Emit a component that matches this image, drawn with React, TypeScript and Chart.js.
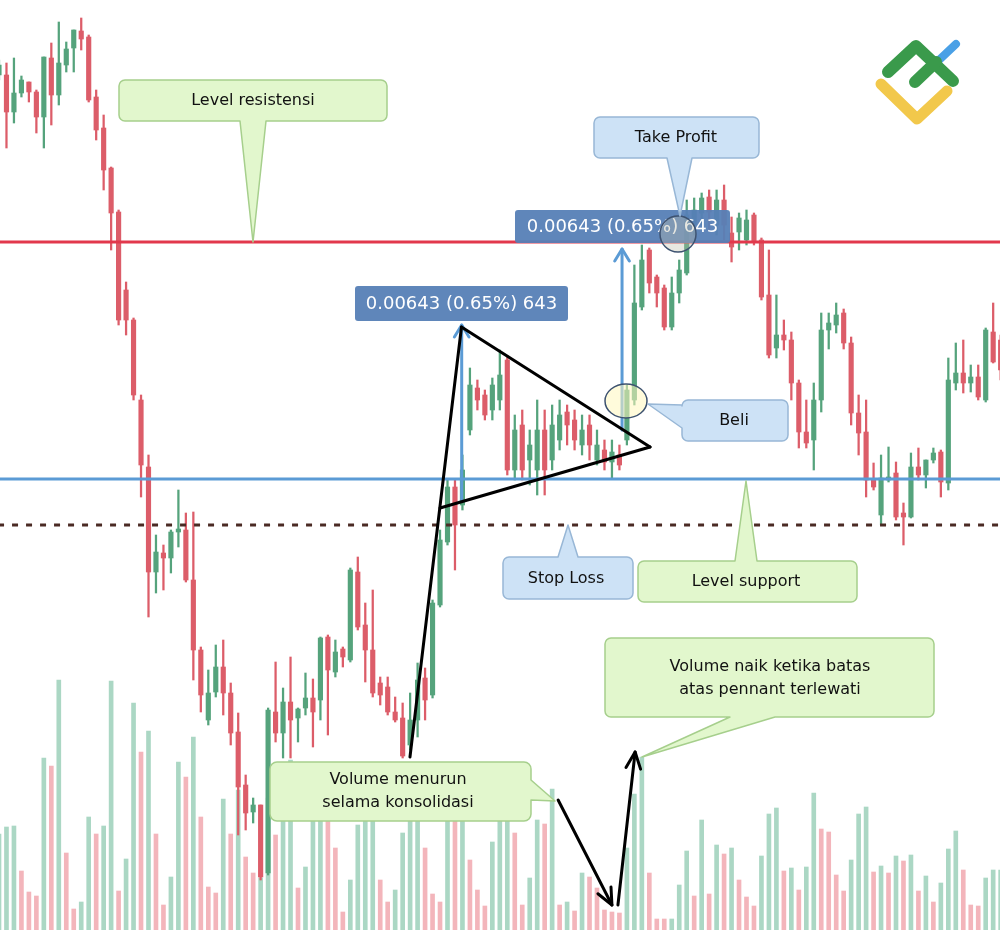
import React, { useEffect, useRef } from 'react';
import { Chart, registerables } from 'chart.js';
Chart.register(...registerables);

// ---- Data (price in points: 1 point = 0.00001) ----
const candleIndex = Array.from({ length: 135 }, (_, i) => i);

const openPts = [
  98925, 98925, 98888, 98907, 98918, 98908, 98883, 98942, 98905, 98935,
  98952, 98969, 98963, 98903, 98872, 98832, 98788, 98710, 98680, 98600,
  98533, 98428, 98447, 98442, 98468, 98470, 98420, 98350, 98280, 98308,
  98333, 98307, 98268, 98215, 98188, 98195, 98127, 98288, 98267, 98298,
  98282, 98292, 98302, 98300, 98363, 98328, 98351, 98340, 98428, 98375,
  98350, 98317, 98313, 98288, 98282, 98255, 98280, 98322, 98305, 98395,
  98458, 98513, 98495, 98570, 98612, 98605, 98590, 98600, 98640, 98530,
  98575, 98540, 98530, 98570, 98540, 98560, 98588, 98580, 98555, 98575,
  98540, 98550, 98538, 98545, 98560, 98600, 98693, 98750, 98723, 98712,
  98673, 98707, 98727, 98775, 98787, 98803, 98775, 98800, 98767, 98768,
  98760, 98785, 98760, 98705, 98652, 98665, 98660, 98617, 98568, 98560,
  98600, 98670, 98675, 98687, 98657, 98587, 98568, 98520, 98485, 98520,
  98527, 98487, 98483, 98533, 98525, 98540, 98548, 98517, 98617, 98627,
  98617, 98623, 98600, 98668, 98660,
];
const highPts = [
  98940, 98937, 98942, 98924, 98918, 98910, 98943, 98957, 98978, 98958,
  98970, 98982, 98965, 98910, 98885, 98833, 98790, 98718, 98682, 98605,
  98545, 98465, 98455, 98470, 98510, 98487, 98488, 98353, 98330, 98355,
  98360, 98317, 98287, 98225, 98202, 98195, 98292, 98338, 98312, 98343,
  98292, 98327, 98321, 98363, 98365, 98360, 98353, 98432, 98443, 98397,
  98410, 98323, 98323, 98303, 98297, 98307, 98337, 98332, 98400, 98470,
  98520, 98520, 98545, 98632, 98620, 98610, 98622, 98650, 98644, 98585,
  98590, 98570, 98600, 98590, 98595, 98600, 98595, 98590, 98585, 98585,
  98570, 98560, 98560, 98555, 98615, 98735, 98755, 98752, 98725, 98715,
  98723, 98740, 98800, 98802, 98807, 98810, 98810, 98815, 98783, 98787,
  98790, 98787, 98762, 98750, 98705, 98680, 98668, 98620, 98600, 98617,
  98687, 98687, 98697, 98691, 98663, 98605, 98600, 98537, 98545, 98553,
  98538, 98497, 98547, 98552, 98540, 98552, 98550, 98642, 98657, 98660,
  98635, 98635, 98672, 98697, 98665,
];
const lowPts = [
  98920, 98852, 98877, 98903, 98898, 98867, 98852, 98875, 98895, 98928,
  98928, 98950, 98898, 98860, 98810, 98750, 98675, 98665, 98600, 98503,
  98383, 98407, 98410, 98427, 98453, 98418, 98320, 98288, 98275, 98303,
  98285, 98255, 98165, 98170, 98177, 98120, 98125, 98258, 98242, 98242,
  98258, 98285, 98253, 98280, 98265, 98323, 98333, 98338, 98370, 98318,
  98303, 98295, 98285, 98278, 98242, 98250, 98263, 98280, 98302, 98393,
  98455, 98430, 98490, 98565, 98590, 98580, 98580, 98590, 98525, 98520,
  98520, 98515, 98505, 98505, 98530, 98550, 98555, 98550, 98545, 98540,
  98535, 98530, 98522, 98530, 98555, 98595, 98690, 98707, 98693, 98670,
  98670, 98697, 98725, 98765, 98775, 98770, 98765, 98760, 98738, 98750,
  98755, 98755, 98700, 98642, 98642, 98650, 98600, 98552, 98552, 98530,
  98588, 98651, 98667, 98651, 98575, 98545, 98503, 98510, 98475, 98518,
  98480, 98455, 98482, 98520, 98512, 98537, 98503, 98510, 98610, 98607,
  98608, 98600, 98598, 98637, 98620,
];
const closePts = [
  98935, 98888, 98907, 98920, 98908, 98883, 98943, 98905, 98937, 98951,
  98970, 98961, 98900, 98870, 98830, 98787, 98680, 98680, 98605, 98535,
  98428, 98448, 98442, 98468, 98471, 98420, 98350, 98305, 98307, 98333,
  98307, 98267, 98213, 98187, 98195, 98123, 98290, 98267, 98298, 98280,
  98291, 98302, 98288, 98362, 98330, 98348, 98343, 98430, 98373, 98350,
  98307, 98305, 98288, 98280, 98244, 98280, 98320, 98300, 98397, 98460,
  98513, 98475, 98530, 98615, 98600, 98585, 98615, 98625, 98530, 98570,
  98530, 98555, 98570, 98530, 98575, 98585, 98575, 98560, 98570, 98555,
  98555, 98538, 98548, 98535, 98610, 98697, 98740, 98717, 98707, 98673,
  98707, 98730, 98785, 98790, 98802, 98788, 98800, 98775, 98753, 98782,
  98780, 98758, 98703, 98645, 98665, 98660, 98617, 98568, 98557, 98600,
  98670, 98677, 98685, 98657, 98587, 98567, 98520, 98513, 98522, 98523,
  98483, 98483, 98533, 98525, 98540, 98547, 98518, 98620, 98627, 98617,
  98623, 98603, 98670, 98638, 98630,
];
const volume = [
  96, 103, 104, 59, 38, 34, 172, 164, 250, 77,
  21, 28, 113, 96, 104, 249, 39, 71, 227, 178,
  199, 96, 25, 53, 168, 153, 193, 113, 43, 37,
  131, 96, 140, 73, 57, 52, 132, 95, 140, 170,
  42, 63, 150, 140, 125, 82, 18, 50, 105, 140,
  120, 50, 28, 40, 97, 130, 130, 82, 36, 28,
  115, 115, 115, 70, 40, 24, 88, 130, 130, 97,
  25, 52, 110, 106, 141, 25, 28, 19, 57, 53,
  42, 20, 18, 17, 82, 136, 173, 57, 11, 11,
  11, 45, 79, 34, 110, 36, 85, 76, 82, 50,
  33, 24, 74, 116, 122, 59, 62, 40, 63, 137,
  101, 98, 55, 39, 70, 116, 123, 58, 64, 57,
  74, 69, 75, 39, 54, 28, 47, 81, 99, 60,
  25, 24, 52, 60, 60,
];
const volumeUp = [
  1, 1, 1, 0, 0, 0, 1, 0, 1, 0,
  0, 1, 1, 0, 1, 1, 0, 1, 1, 0,
  1, 0, 0, 1, 1, 0, 1, 0, 0, 0,
  1, 0, 1, 0, 0, 1, 1, 0, 1, 1,
  0, 1, 1, 1, 0, 0, 0, 1, 1, 1,
  1, 0, 0, 1, 1, 1, 1, 0, 0, 0,
  1, 0, 1, 0, 0, 0, 1, 1, 1, 0,
  0, 1, 1, 0, 1, 0, 1, 0, 1, 0,
  0, 0, 0, 0, 1, 1, 1, 0, 0, 0,
  1, 1, 1, 0, 1, 0, 1, 0, 1, 0,
  0, 0, 1, 1, 1, 0, 1, 0, 1, 1,
  0, 0, 0, 0, 1, 1, 1, 0, 1, 0,
  1, 0, 1, 0, 1, 0, 1, 1, 1, 0,
  0, 0, 1, 1, 1,
];

const resistanceLevel = 98758;
const supportLevel = 98521;
const stopLevel = 98475;

// pattern geometry in (candle index, price)
const pennantPole = [[54.98, 98243], [61.87, 98673]];
const pennantUpper = [[61.87, 98673], [87.1, 98553]];
const pennantLower = [[59.0, 98492], [87.1, 98553]];
const measureArrow1 = [[61.9, 98500], [61.9, 98675]];
const measureArrow2 = [[83.35, 98570], [83.35, 98751]];
// volume arrows in (candle index, volume)
const volArrowDown = [[74.8, 130], [82.0, 25]];
const volArrowUp = [[82.8, 25], [85.1, 178]];

const measureText = '0.00643 (0.65%) 643';

const C_UP = '#55a37c';
const C_DN = '#dc5d69';
const V_UP = '#abd7c4';
const V_DN = '#f3b5bb';

function callout(ctx: CanvasRenderingContext2D, b: any, fill: string, stroke: string) {
  const { x, y, w, h, r, side, a, c, tip } = b;
  ctx.beginPath();
  ctx.moveTo(x + r, y);
  if (side === 'top') { ctx.lineTo(a, y); ctx.lineTo(tip[0], tip[1]); ctx.lineTo(c, y); }
  ctx.lineTo(x + w - r, y);
  ctx.arcTo(x + w, y, x + w, y + r, r);
  if (side === 'right') { ctx.lineTo(x + w, a); ctx.lineTo(tip[0], tip[1]); ctx.lineTo(x + w, c); }
  ctx.lineTo(x + w, y + h - r);
  ctx.arcTo(x + w, y + h, x + w - r, y + h, r);
  if (side === 'bottom') { ctx.lineTo(c, y + h); ctx.lineTo(tip[0], tip[1]); ctx.lineTo(a, y + h); }
  ctx.lineTo(x + r, y + h);
  ctx.arcTo(x, y + h, x, y + h - r, r);
  if (side === 'left') { ctx.lineTo(x, c); ctx.lineTo(tip[0], tip[1]); ctx.lineTo(x, a); }
  ctx.lineTo(x, y + r);
  ctx.arcTo(x, y, x + r, y, r);
  ctx.closePath();
  ctx.fillStyle = fill;
  ctx.fill();
  ctx.lineWidth = 1.5;
  ctx.strokeStyle = stroke;
  ctx.stroke();
}

function roundRect(ctx: CanvasRenderingContext2D, x: number, y: number, w: number, h: number, r: number) {
  ctx.beginPath();
  ctx.moveTo(x + r, y);
  ctx.arcTo(x + w, y, x + w, y + h, r);
  ctx.arcTo(x + w, y + h, x, y + h, r);
  ctx.arcTo(x, y + h, x, y, r);
  ctx.arcTo(x, y, x + w, y, r);
  ctx.closePath();
}

function arrowHead(ctx: CanvasRenderingContext2D, x0: number, y0: number, x1: number, y1: number, len: number, ang: number) {
  const t = Math.atan2(y1 - y0, x1 - x0);
  ctx.beginPath();
  ctx.moveTo(x1 - len * Math.cos(t - ang), y1 - len * Math.sin(t - ang));
  ctx.lineTo(x1, y1);
  ctx.lineTo(x1 - len * Math.cos(t + ang), y1 - len * Math.sin(t + ang));
  ctx.stroke();
}

const annotations = {
  id: 'annotations',
  afterDatasetsDraw(chart: any) {
    const ctx: CanvasRenderingContext2D = chart.ctx;
    const sx = chart.scales.x, sy = chart.scales.y, sv = chart.scales.yv;
    const P = (p: number[]) => [sx.getPixelForValue(p[0]), sy.getPixelForValue(p[1])];
    const V = (p: number[]) => [sx.getPixelForValue(p[0]), sv.getPixelForValue(p[1])];
    ctx.save();
    ctx.lineCap = 'round';
    ctx.lineJoin = 'round';

    // blue measurement arrows
    ctx.strokeStyle = '#5b9bd5';
    ctx.lineWidth = 3;
    for (const arr of [measureArrow1, measureArrow2]) {
      const a = P(arr[0]), b = P(arr[1]);
      ctx.beginPath(); ctx.moveTo(a[0], a[1]); ctx.lineTo(b[0], b[1]); ctx.stroke();
      arrowHead(ctx, a[0], a[1], b[0], b[1], 14, 0.55);
    }

    // pennant lines
    ctx.strokeStyle = '#000';
    ctx.lineWidth = 3;
    for (const seg of [pennantPole, pennantUpper, pennantLower]) {
      const a = P(seg[0]), b = P(seg[1]);
      ctx.beginPath(); ctx.moveTo(a[0], a[1]); ctx.lineTo(b[0], b[1]); ctx.stroke();
    }

    // measurement labels
    ctx.font = '18px "DejaVu Sans"';
    ctx.textAlign = 'center';
    ctx.textBaseline = 'middle';
    const boxes = [[355, 286, 213, 35], [515, 210, 215, 33]];
    for (const [x, y, w, h] of boxes) {
      roundRect(ctx, x, y, w, h, 3);
      ctx.fillStyle = 'rgba(86,128,182,0.95)';
      ctx.fill();
      ctx.fillStyle = '#fff';
      ctx.fillText(measureText, x + w / 2, y + h / 2 + 1);
    }

    // circles
    ctx.lineWidth = 1.5;
    ctx.strokeStyle = '#3d5270';
    ctx.beginPath(); ctx.ellipse(678, 234, 18, 18, 0, 0, Math.PI * 2);
    ctx.fillStyle = 'rgba(190,190,170,0.35)'; ctx.fill(); ctx.stroke();
    ctx.beginPath(); ctx.ellipse(626, 401, 21, 17, 0, 0, Math.PI * 2);
    ctx.fillStyle = 'rgba(255,248,190,0.55)'; ctx.fill(); ctx.stroke();

    // callouts
    const GF = '#e2f7cd', GS = '#a6cf8c', BF = '#cde2f6', BS = '#98b7d6';
    callout(ctx, { x: 119, y: 80, w: 268, h: 41, r: 6, side: 'bottom', a: 240, c: 266, tip: [253, 242] }, GF, GS);
    callout(ctx, { x: 594, y: 117, w: 165, h: 41, r: 6, side: 'bottom', a: 667, c: 692, tip: [680, 216] }, BF, BS);
    callout(ctx, { x: 682, y: 400, w: 106, h: 41, r: 6, side: 'left', a: 405, c: 428, tip: [648, 404] }, BF, BS);
    callout(ctx, { x: 503, y: 557, w: 130, h: 42, r: 6, side: 'top', a: 558, c: 578, tip: [568, 525] }, BF, BS);
    callout(ctx, { x: 638, y: 561, w: 219, h: 41, r: 6, side: 'top', a: 735, c: 757, tip: [746, 481] }, GF, GS);
    callout(ctx, { x: 605, y: 638, w: 329, h: 79, r: 6, side: 'bottom', a: 730, c: 775, tip: [642, 757] }, GF, GS);
    callout(ctx, { x: 270, y: 762, w: 261, h: 59, r: 7, side: 'right', a: 780, c: 800, tip: [555, 801] }, GF, GS);

    ctx.fillStyle = '#111';
    ctx.font = '16px "DejaVu Sans"';
    ctx.fillText('Level resistensi', 253, 101);
    ctx.fillText('Take Profit', 676, 138);
    ctx.fillText('Beli', 734, 421);
    ctx.fillText('Stop Loss', 566, 579);
    ctx.fillText('Level support', 746, 582);
    ctx.fillText('Volume naik ketika batas', 770, 667);
    ctx.fillText('atas pennant terlewati', 770, 690);
    ctx.fillText('Volume menurun', 398, 780);
    ctx.fillText('selama konsolidasi', 398, 803);

    // volume arrows
    ctx.strokeStyle = '#000';
    ctx.lineWidth = 3;
    for (const seg of [volArrowDown, volArrowUp]) {
      const a = V(seg[0]), b = V(seg[1]);
      ctx.beginPath(); ctx.moveTo(a[0], a[1]); ctx.lineTo(b[0], b[1]); ctx.stroke();
      arrowHead(ctx, a[0], a[1], b[0], b[1], 18, 0.42);
    }

    // logo
    ctx.lineCap = 'round';
    ctx.lineJoin = 'round';
    ctx.strokeStyle = '#4aa0e6'; ctx.lineWidth = 8;
    ctx.beginPath(); ctx.moveTo(938, 61); ctx.lineTo(956, 44); ctx.stroke();
    ctx.strokeStyle = '#f2c84b'; ctx.lineWidth = 11;
    ctx.beginPath(); ctx.moveTo(881, 84); ctx.lineTo(917, 119); ctx.lineTo(947, 91); ctx.stroke();
    ctx.strokeStyle = '#3a9a4b'; ctx.lineWidth = 12;
    ctx.beginPath(); ctx.moveTo(888, 72); ctx.lineTo(916, 46); ctx.lineTo(953, 81); ctx.stroke();
    ctx.beginPath(); ctx.moveTo(915, 82); ctx.lineTo(936, 62); ctx.stroke();

    ctx.restore();
  },
};

export default function App() {
  const ref = useRef<HTMLCanvasElement>(null);
  useEffect(() => {
    const up = candleIndex.map((i) => closePts[i] >= openPts[i]);
    const candleColors = up.map((u) => (u ? C_UP : C_DN));
    const volColors = volumeUp.map((u) => (u ? V_UP : V_DN));
    const chart = new Chart(ref.current as HTMLCanvasElement, {
      type: 'bar',
      data: {
        datasets: [
          {
            type: 'line', label: 'Level resistensi',
            data: [{ x: -2, y: resistanceLevel }, { x: 140, y: resistanceLevel }],
            borderColor: '#e2384c', borderWidth: 3, pointRadius: 0, order: 0,
          } as any,
          {
            type: 'line', label: 'Level support',
            data: [{ x: -2, y: supportLevel }, { x: 140, y: supportLevel }],
            borderColor: '#5b9bd5', borderWidth: 3, pointRadius: 0, order: 0,
          } as any,
          {
            type: 'line', label: 'Stop Loss',
            data: [{ x: -2, y: stopLevel }, { x: 140, y: stopLevel }],
            borderColor: '#4a2a24', borderWidth: 3, borderDash: [6, 8], pointRadius: 0, order: 0,
          } as any,
          {
            label: 'body',
            data: candleIndex.map((i) => ({ x: i, y: [openPts[i], closePts[i]] })),
            backgroundColor: candleColors, barThickness: 4.5, grouped: false, order: 1,
            minBarLength: 1.5,
          } as any,
          {
            label: 'wick',
            data: candleIndex.map((i) => ({ x: i, y: [lowPts[i], highPts[i]] })),
            backgroundColor: candleColors, barThickness: 1.6, grouped: false, order: 2,
          } as any,
          {
            label: 'volume', yAxisID: 'yv',
            data: candleIndex.map((i) => ({ x: i, y: volume[i] })),
            backgroundColor: volColors, barThickness: 4, grouped: false, order: 3,
          } as any,
        ],
      },
      options: {
        animation: false,
        responsive: false,
        maintainAspectRatio: false,
        devicePixelRatio: 1,
        layout: { padding: 0 },
        plugins: { legend: { display: false }, tooltip: { enabled: false } },
        scales: {
          x: { type: 'linear', min: 0.134, max: 133.913, offset: false, display: false },
          y: { min: 98070, max: 99000, display: false },
          yv: { min: 0, max: 930, display: false },
        },
      },
      plugins: [annotations],
    } as any);
    return () => chart.destroy();
  }, []);
  return (
    <div style={{ position: 'absolute', left: 0, top: 0, width: 1000, height: 930, background: '#fff' }}>
      <canvas ref={ref} width={1000} height={930} style={{ display: 'block' }} />
    </div>
  );
}
